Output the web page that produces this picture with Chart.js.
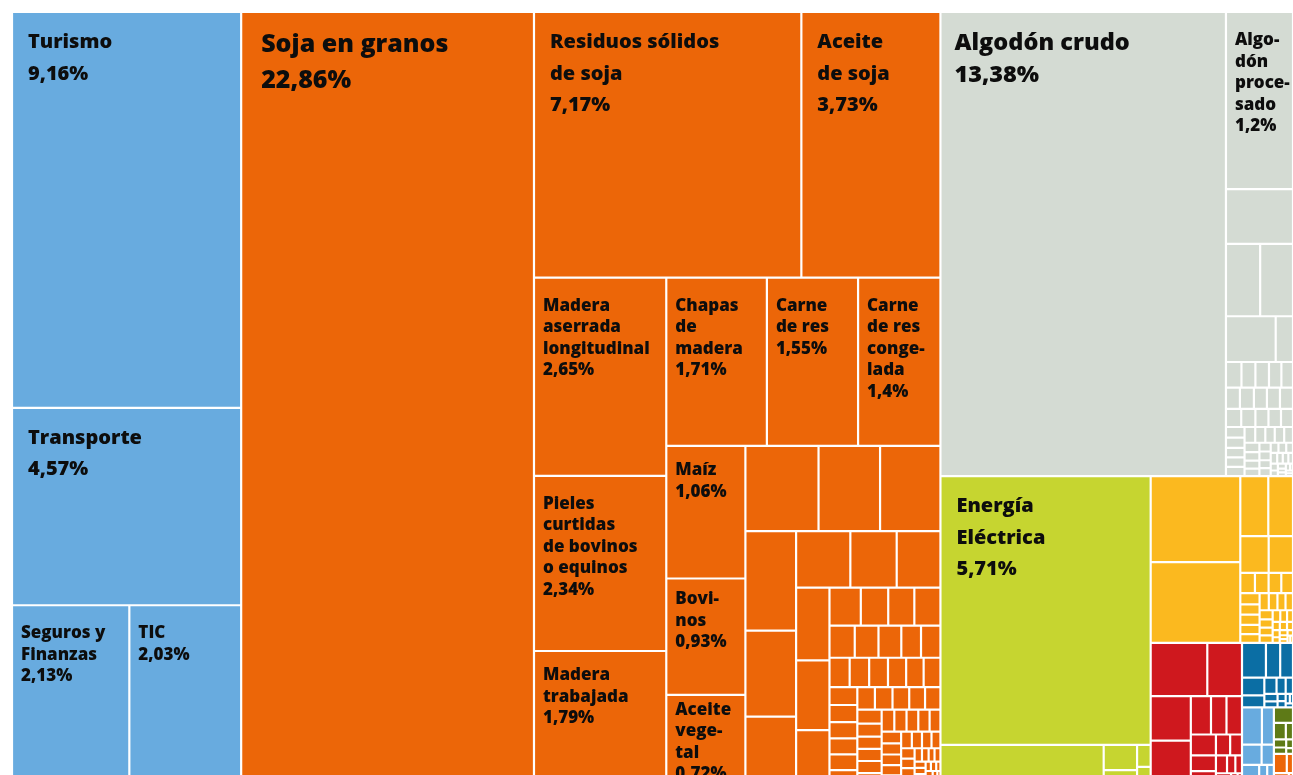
<!DOCTYPE html>
<html lang="es">
<head>
<meta charset="utf-8">
<title>Exportaciones por producto</title>
<script src="https://cdn.jsdelivr.net/npm/chart.js@4.4.1/dist/chart.umd.min.js"></script>
<style>
    html, body { margin: 0; padding: 0; background: #fff; overflow: hidden; }
    canvas { display: block; }
</style>
</head>
<body>
<canvas id="treemap" width="1293" height="790"></canvas>
<script>
// Servicios
const serviciosNombres = ['Turismo', 'Transporte', 'Seguros y\nFinanzas', 'TIC'];
const serviciosValores = [9.16, 4.57, 2.13, 2.03];

// Productos agropecuarios (naranja)
const agroNombres = ['Soja en granos', 'Residuos sólidos\nde soja', 'Aceite\nde soja',
    'Madera\naserrada\nlongitudinal', 'Pieles\ncurtidas\nde bovinos\no equinos', 'Madera\ntrabajada',
    'Chapas\nde\nmadera', 'Carne\nde res', 'Carne\nde res\nconge-\nlada',
    'Maíz', 'Bovi-\nnos', 'Aceite\nvege-\ntal'];
const agroValores = [22.86, 7.17, 3.73, 2.65, 2.34, 1.79, 1.71, 1.55, 1.4, 1.06, 0.93, 0.72];
const agroOtrosValores = [0.63, 0.53, 0.52, 0.51, 0.44, 0.35, 0.31, 0.265, 0.25, 0.245, 0.235, 0.185,
    0.12, 0.105, 0.1, 0.1, 0.082, 0.077, 0.074, 0.064, 0.063,
    0.06, 0.058, 0.056, 0.054, 0.052, 0.05, 0.05, 0.048, 0.046, 0.045, 0.044, 0.042, 0.04, 0.04,
    0.038, 0.036, 0.035, 0.034, 0.032, 0.03, 0.03, 0.03, 0.029, 0.028, 0.027, 0.026, 0.025, 0.024,
    0.023, 0.022, 0.021, 0.02, 0.019, 0.018, 0.017, 0.016, 0.015, 0.014, 0.013, 0.012, 0.011, 0.01,
    0.009, 0.008, 0.008, 0.007, 0.007, 0.006, 0.006, 0.005, 0.005, 0.004, 0.004, 0.003, 0.003, 0.003,
    0.002, 0.002, 0.002, 0.002];

// Algodón (gris)
const algodonNombres = ['Algodón crudo', 'Algo-\ndón\nproce-\nsado'];
const algodonValores = [13.38, 1.2];
const algodonOtrosValores = [0.37, 0.25, 0.24, 0.23, 0.08,
    0.04, 0.036, 0.035, 0.032, 0.03, 0.03, 0.03, 0.028, 0.028, 0.028, 0.028, 0.026, 0.024, 0.023,
    0.022, 0.02, 0.019, 0.018, 0.018, 0.017, 0.017, 0.016, 0.015, 0.015, 0.014, 0.014, 0.013, 0.012,
    0.011, 0.01, 0.01, 0.009, 0.009, 0.008, 0.008, 0.007, 0.007, 0.006, 0.006, 0.005, 0.005, 0.004,
    0.004, 0.003, 0.003, 0.003, 0.002, 0.002, 0.002];

// Energía (verde)
const energiaNombres = ['Energía\nEléctrica'];
const energiaValores = [5.71];
const energiaOtrosValores = [0.66, 0.085, 0.05, 0.03, 0.015, 0.01];

// Resto de grupos, sin etiqueta
const amarilloValores = [0.78, 0.73, 0.17, 0.15, 0.105, 0.09, 0.03, 0.028, 0.026, 0.024, 0.022, 0.02,
    0.02, 0.018, 0.017, 0.016, 0.015, 0.014, 0.013, 0.012, 0.011, 0.01, 0.01, 0.009, 0.008, 0.007,
    0.006, 0.006, 0.005, 0.005, 0.004, 0.004, 0.003, 0.003, 0.003, 0.002, 0.002];
const rojoValores = [0.305, 0.187, 0.18, 0.18, 0.078, 0.06, 0.06, 0.053, 0.04, 0.035, 0.03, 0.025,
    0.02, 0.015, 0.012, 0.01, 0.008, 0.006, 0.004, 0.003];
const azulValores = [0.084, 0.05, 0.045, 0.04, 0.027, 0.02, 0.015, 0.012, 0.01, 0.008, 0.006, 0.005,
    0.004, 0.003, 0.003];
const celesteValores = [0.075, 0.045, 0.04, 0.025, 0.02, 0.015, 0.012, 0.01, 0.008];
const olivaValores = [0.03, 0.02, 0.012, 0.01, 0.008, 0.006, 0.004];
const naranjaValores = [0.025, 0.012, 0.01, 0.008, 0.005];

const COLORES = {
    servicios: '#68abdf',
    agro: '#ec6608',
    algodon: '#d4dbd3',
    energia: '#c6d530',
    amarillo: '#fbb91f',
    rojo: '#cf181e',
    azul: '#0b6ea4',
    celeste: '#68abdf',
    oliva: '#5e7a17'
};

// Layout units: same proportion as the drawing area
const ANCHO = 1281, ALTO = 773;

function hojas(nombres, valores, color) {
    return valores.map((v, i) => ({ valor: v, nombre: nombres ? nombres[i] : null, color }));
}
const fila = hijos => ({ modo: 'fila', hijos });
const columna = hijos => ({ modo: 'columna', hijos });
const mosaico = hijos => ({ modo: 'mosaico', hijos });
const tiras = (cuentas, hijos) => ({ modo: 'tiras', cuentas, hijos });

function total(n) {
    return n.hijos ? n.hijos.reduce((s, h) => s + total(h), 0) : n.valor;
}
function suma(lista) {
    return lista.reduce((s, h) => s + total(h), 0);
}

// Squarified layout (golden ratio), same rule as d3.treemapSquarify
function cuadricular(items, x0, y0, x1, y1, salida) {
    const ratio = (1 + Math.sqrt(5)) / 2;
    let value = suma(items);
    let i0 = 0;
    while (i0 < items.length) {
        const dx = x1 - x0, dy = y1 - y0;
        let i1 = i0;
        let sumV = total(items[i1++]);
        let minV = sumV, maxV = sumV;
        const alpha = Math.max(dy / dx, dx / dy) / (value * ratio);
        let beta = sumV * sumV * alpha;
        let minRatio = Math.max(maxV / beta, beta / minV);
        for (; i1 < items.length; i1++) {
            const v = total(items[i1]);
            sumV += v;
            if (v < minV) minV = v;
            if (v > maxV) maxV = v;
            beta = sumV * sumV * alpha;
            const nuevo = Math.max(maxV / beta, beta / minV);
            if (nuevo > minRatio) { sumV -= v; break; }
            minRatio = nuevo;
        }
        const grupo = items.slice(i0, i1);
        if (dx < dy) {
            const yb = y0 + dy * sumV / value;
            ubicar(fila(grupo), x0, y0, x1, yb, salida);
            y0 = yb;
        } else {
            const xb = x0 + dx * sumV / value;
            ubicar(columna(grupo), x0, y0, xb, y1, salida);
            x0 = xb;
        }
        value -= sumV;
        i0 = i1;
    }
}

function ubicar(n, x0, y0, x1, y1, salida) {
    if (!n.hijos) {
        salida.push({ ...n, x0, y0, x1, y1, x: (x0 + x1) / 2, y: (y0 + y1) / 2 });
        return;
    }
    const t = total(n);
    if (n.modo === 'fila') {
        let x = x0;
        n.hijos.forEach(h => {
            const w = (x1 - x0) * total(h) / t;
            ubicar(h, x, y0, x + w, y1, salida);
            x += w;
        });
    } else if (n.modo === 'columna') {
        let y = y0;
        n.hijos.forEach(h => {
            const alto = (y1 - y0) * total(h) / t;
            ubicar(h, x0, y, x1, y + alto, salida);
            y += alto;
        });
    } else if (n.modo === 'tiras') {
        // alternate: strip on top, column on the left, ...
        const resto = n.hijos.slice();
        let cx0 = x0, cy0 = y0;
        n.cuentas.forEach((c, j) => {
            const grupo = resto.splice(0, c);
            const fr = suma(grupo) / (suma(grupo) + suma(resto));
            if (j % 2 === 0) {
                const yb = cy0 + (y1 - cy0) * fr;
                ubicar(fila(grupo), cx0, cy0, x1, yb, salida);
                cy0 = yb;
            } else {
                const xb = cx0 + (x1 - cx0) * fr;
                ubicar(columna(grupo), cx0, cy0, xb, y1, salida);
                cx0 = xb;
            }
        });
        if (resto.length) cuadricular(resto, cx0, cy0, x1, y1, salida);
    } else {
        cuadricular(n.hijos, x0, y0, x1, y1, salida);
    }
}

// Build the tree
const servicios = hojas(serviciosNombres, serviciosValores, COLORES.servicios);
const agro = hojas(agroNombres, agroValores, COLORES.agro);
const agroOtros = hojas(null, agroOtrosValores, COLORES.agro);
const algodon = hojas(algodonNombres, algodonValores, COLORES.algodon);
const algodonOtros = hojas(null, algodonOtrosValores, COLORES.algodon);
const energia = hojas(energiaNombres, energiaValores, COLORES.energia);
const energiaOtros = hojas(null, energiaOtrosValores, COLORES.energia);
const amarillo = hojas(null, amarilloValores, COLORES.amarillo);

const arbol = fila([
    columna([servicios[0], servicios[1], fila([servicios[2], servicios[3]])]),
    agro[0],
    tiras([2, 3, 3, 3, 3, 3, 3, 3], agro.slice(1).concat(agroOtros)),
    columna([
        fila([algodon[0], columna([algodon[1], mosaico(algodonOtros)])]),
        fila([
            columna([energia[0], mosaico(energiaOtros)]),
            columna([
                fila([columna(amarillo.slice(0, 2)), mosaico(amarillo.slice(2))]),
                fila([
                    mosaico(hojas(null, rojoValores, COLORES.rojo)),
                    columna([
                        mosaico(hojas(null, azulValores, COLORES.azul)),
                        fila([
                            mosaico(hojas(null, celesteValores, COLORES.celeste)),
                            columna([
                                mosaico(hojas(null, olivaValores, COLORES.oliva)),
                                mosaico(hojas(null, naranjaValores, COLORES.agro))
                            ])
                        ])
                    ])
                ])
            ])
        ])
    ])
]);

const celdas = [];
ubicar(arbol, 0, 0, ANCHO, ALTO, celdas);

function formato(v) {
    return String(v).replace('.', ',') + '%';
}

function estilo(v, alto) {
    if (v >= 20) return { size: 25, line: 36, padX: 20, first: 40 };
    if (v >= 10) return { size: 23.5, line: 32, padX: 14, first: 38 };
    if (v >= 3.5) return { size: 20, line: 31.5, padX: 16, first: 36 };
    // small boxes: label sits closer to the top edge when the box is short
    return { size: 17, line: 21.5, padX: 9, first: Math.min(33, Math.max(20, alto * 0.22)) };
}

// Treemap cells drawn as bar elements placed through the x / y scales
class TreemapController extends Chart.DatasetController {
    update(mode) {
        const meta = this._cachedMeta;
        this.updateElements(meta.data, 0, meta.data.length, mode);
    }

    updateElements(rects, start, count, mode) {
        const { xScale, yScale } = this._cachedMeta;
        const data = this.getDataset().data;
        for (let i = start; i < start + count; i++) {
            const d = data[i];
            const izq = xScale.getPixelForValue(d.x0);
            const der = xScale.getPixelForValue(d.x1);
            const arr = yScale.getPixelForValue(d.y0);
            const aba = yScale.getPixelForValue(d.y1);
            this.updateElement(rects[i], i, {
                x: (izq + der) / 2,
                y: arr,
                base: aba,
                width: der - izq,
                height: aba - arr,
                horizontal: false,
                borderSkipped: {},
                inflateAmount: 0,
                options: this.resolveDataElementOptions(i, mode)
            }, mode);
        }
    }

    draw() {
        super.draw();
        const ctx = this.chart.ctx;
        const data = this.getDataset().data;
        ctx.save();
        ctx.fillStyle = '#0d0d0d';
        ctx.textBaseline = 'alphabetic';
        this._cachedMeta.data.forEach((el, i) => {
            const d = data[i];
            if (!d.nombre) return;
            const izq = el.x - el.width / 2;
            const arr = Math.min(el.y, el.base);
            const e = estilo(d.valor, Math.abs(el.base - el.y));
            ctx.font = '800 ' + e.size + 'px "Open Sans"';
            const lineas = d.nombre.split('\n').concat(formato(d.valor));
            lineas.forEach((t, k) => ctx.fillText(t, izq + e.padX, arr + e.first + k * e.line));
        });
        ctx.restore();
    }
}
TreemapController.id = 'treemapa';
TreemapController.defaults = { dataElementType: 'bar', datasetElementType: false };
Chart.register(TreemapController);

new Chart(document.getElementById('treemap'), {
    type: 'treemapa',
    data: {
        datasets: [{
            data: celdas,
            backgroundColor: celdas.map(c => c.color),
            borderColor: '#ffffff',
            borderWidth: 1.1,
            borderSkipped: false,
            inflateAmount: 0
        }]
    },
    options: {
        responsive: false,
        animation: false,
        events: [],
        devicePixelRatio: 1,
        layout: { padding: { left: 12, top: 12, right: 0, bottom: 5 } },
        plugins: {
            legend: { display: false },
            tooltip: { enabled: false }
        },
        scales: {
            x: { type: 'linear', display: false, min: 0, max: ANCHO },
            y: { type: 'linear', display: false, min: 0, max: ALTO, reverse: true }
        }
    }
});
</script>
</body>
</html>
